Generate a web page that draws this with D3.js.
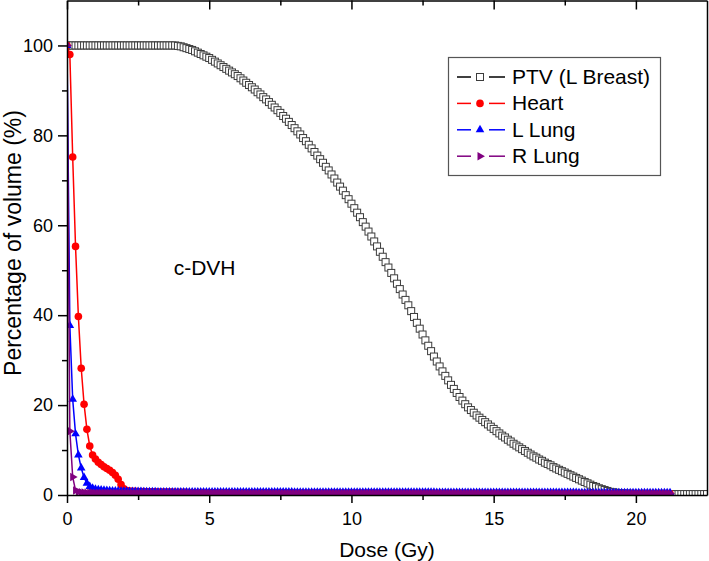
<!DOCTYPE html>
<html><head><meta charset="utf-8">
<script src="https://cdn.jsdelivr.net/npm/d3@7"></script>
<style>body{margin:0;background:#fff}svg{display:block;font-family:Arial,"Liberation Sans",sans-serif}</style>
</head><body><svg id="c" width="709" height="561"></svg>
<script>
const seriesNames = ["PTV (L Breast)", "Heart", "L Lung", "R Lung"];
const seriesColors = ["#000000", "#ff0000", "#0000ff", "#800080"];
const doseStep = 0.1; // Gy per DVH bin
const ptvVolume = [
100,100,100,100,100,100,100,100,100,100,
100,100,100,100,100,100,100,100,100,100,
100,100,100,100,100,100,100,100,100,100,
100,100,100,100,100,100,100,100,100,99.9,
99.8,99.6,99.4,99.2,99.0,98.7,98.4,98.1,97.8,97.5,
97.2,96.8,96.4,96.0,95.6,95.2,94.8,94.4,94.0,93.6,
93.2,92.7,92.2,91.7,91.2,90.7,90.2,89.6,89.1,88.5,
88.0,87.4,86.8,86.2,85.6,85.0,84.3,83.7,83.0,82.3,
81.6,80.9,80.2,79.4,78.7,77.9,77.1,76.3,75.5,74.7,
73.9,73.0,72.2,71.3,70.4,69.5,68.6,67.7,66.7,65.8,
64.8,63.8,62.8,61.8,60.7,59.7,58.6,57.5,56.4,55.3,
54.1,53.0,51.8,50.6,49.4,48.2,47.0,45.8,44.6,43.4,
42.2,40.9,39.6,38.3,37.0,35.7,34.4,33.2,32.0,30.8,
29.7,28.6,27.5,26.5,25.5,24.5,23.6,22.7,21.8,21.0,
20.2,19.5,18.9,18.3,17.7,17.2,16.7,16.2,15.7,15.2,
14.7,14.2,13.7,13.2,12.8,12.3,11.9,11.4,11.0,10.6,
10.2,9.8,9.4,9.0,8.6,8.3,7.9,7.6,7.2,6.9,
6.6,6.2,5.9,5.6,5.3,5.0,4.7,4.4,4.1,3.8,
3.5,3.2,2.9,2.6,2.3,2.0,1.8,1.5,1.3,1.1,
0.9,0.7,0.6,0.5,0.4,0.35,0.3,0.3,0.25,0.25,
0.2,0.2,0.2,0.2,0.2,0.2,0.2,0.2,0.2,0.2,
0.2,0.2,0.2,0.2,0.2,0.2,0.2,0.2,0.2,0.2,
0.2,0.2,0.2,0.2,0.2,0.2];
const heartVolume = [
100,98.0,75.2,55.3,39.7,28.2,20.2,14.6,10.9,8.9,
8.0,7.3,6.8,6.3,5.9,5.5,5.0,4.4,3.5,2.3,
1.4,1.0,0.9,0.85,0.8,0.78,0.75,0.74,0.72,0.71,
0.7,0.69,0.68,0.67,0.66,0.65,0.64,0.63,0.62,0.61,
0.6,0.59,0.58,0.57,0.56,0.55,0.54,0.53,0.52,0.51,
0.5,0.5,0.5,0.5,0.5,0.5,0.5,0.5,0.5,0.5,
0.45,0.45,0.45,0.45,0.45,0.45,0.45,0.45,0.45,0.45,
0.45,0.45,0.45,0.45,0.45,0.45,0.45,0.45,0.45,0.45,
0.4,0.4,0.4,0.4,0.4,0.4,0.4,0.4,0.4,0.4,
0.4,0.4,0.4,0.4,0.4,0.4,0.4,0.4,0.4,0.4,
0.4,0.4,0.4,0.4,0.4,0.4,0.4,0.4,0.4,0.4,
0.4,0.4,0.4,0.4,0.4,0.4,0.4,0.4,0.4,0.4,
0.35,0.35,0.35,0.35,0.35,0.35,0.35,0.35,0.35,0.35,
0.35,0.35,0.35,0.35,0.35,0.35,0.35,0.35,0.35,0.35,
0.35,0.35,0.35,0.35,0.35,0.35,0.35,0.35,0.35,0.35,
0.35,0.35,0.35,0.35,0.35,0.35,0.35,0.35,0.35,0.35,
0.3,0.3,0.3,0.3,0.3,0.3,0.3,0.3,0.3,0.3,
0.3,0.3,0.3,0.3,0.3,0.3,0.3,0.3,0.3,0.3,
0.3,0.3,0.3,0.3,0.3,0.3,0.3,0.3,0.3,0.3,
0.3,0.3,0.3,0.3,0.3,0.3,0.3,0.3,0.3,0.3,
0.3,0.3,0.3,0.3,0.3,0.3,0.3,0.3,0.3,0.3,
0.3,0.3,0.3];
const lLungVolume = [
100,37.7,21.3,13.6,8.9,6.0,3.9,2.6,1.9,1.5,
1.3,1.2,1.1,1.05,1.0,0.95,0.92,0.9,0.88,0.86,
0.84,0.82,0.8,0.79,0.78,0.77,0.76,0.75,0.74,0.73,
0.72,0.71,0.7,0.7,0.69,0.69,0.68,0.68,0.67,0.67,
0.65,0.65,0.65,0.65,0.65,0.65,0.65,0.65,0.65,0.65,
0.65,0.65,0.65,0.65,0.65,0.65,0.65,0.65,0.65,0.65,
0.65,0.65,0.65,0.65,0.65,0.65,0.65,0.65,0.65,0.65,
0.65,0.65,0.65,0.65,0.65,0.65,0.65,0.65,0.65,0.65,
0.6,0.6,0.6,0.6,0.6,0.6,0.6,0.6,0.6,0.6,
0.6,0.6,0.6,0.6,0.6,0.6,0.6,0.6,0.6,0.6,
0.6,0.6,0.6,0.6,0.6,0.6,0.6,0.6,0.6,0.6,
0.6,0.6,0.6,0.6,0.6,0.6,0.6,0.6,0.6,0.6,
0.6,0.6,0.6,0.6,0.6,0.6,0.6,0.6,0.6,0.6,
0.55,0.55,0.55,0.55,0.55,0.55,0.55,0.55,0.55,0.55,
0.55,0.55,0.55,0.55,0.55,0.55,0.55,0.55,0.55,0.55,
0.55,0.55,0.55,0.55,0.55,0.55,0.55,0.55,0.55,0.55,
0.55,0.55,0.55,0.55,0.55,0.55,0.55,0.55,0.55,0.55,
0.55,0.55,0.55,0.55,0.55,0.55,0.55,0.55,0.55,0.55,
0.5,0.5,0.5,0.5,0.5,0.5,0.5,0.5,0.5,0.5,
0.5,0.5,0.5,0.5,0.5,0.5,0.5,0.5,0.5,0.5,
0.5,0.5,0.5,0.5,0.5,0.5,0.5,0.5,0.5,0.5,
0.5,0.5,0.5];
const rLungVolume = [
100,14.2,4.0,1.0,0.7,0.6,0.55,0.5,0.5,0.5,
0.45,0.45,0.45,0.45,0.45,0.45,0.45,0.45,0.45,0.45,
0.45,0.45,0.45,0.45,0.45,0.45,0.45,0.45,0.45,0.45,
0.45,0.45,0.45,0.45,0.45,0.45,0.45,0.45,0.45,0.45,
0.45,0.45,0.45,0.45,0.45,0.45,0.45,0.45,0.45,0.45,
0.45,0.45,0.45,0.45,0.45,0.45,0.45,0.45,0.45,0.45,
0.4,0.4,0.4,0.4,0.4,0.4,0.4,0.4,0.4,0.4,
0.4,0.4,0.4,0.4,0.4,0.4,0.4,0.4,0.4,0.4,
0.4,0.4,0.4,0.4,0.4,0.4,0.4,0.4,0.4,0.4,
0.4,0.4,0.4,0.4,0.4,0.4,0.4,0.4,0.4,0.4,
0.4,0.4,0.4,0.4,0.4,0.4,0.4,0.4,0.4,0.4,
0.4,0.4,0.4,0.4,0.4,0.4,0.4,0.4,0.4,0.4,
0.38,0.38,0.38,0.38,0.38,0.38,0.38,0.38,0.38,0.38,
0.38,0.38,0.38,0.38,0.38,0.38,0.38,0.38,0.38,0.38,
0.38,0.38,0.38,0.38,0.38,0.38,0.38,0.38,0.38,0.38,
0.38,0.38,0.38,0.38,0.38,0.38,0.38,0.38,0.38,0.38,
0.38,0.38,0.38,0.38,0.38,0.38,0.38,0.38,0.38,0.38,
0.35,0.35,0.35,0.35,0.35,0.35,0.35,0.35,0.35,0.35,
0.35,0.35,0.35,0.35,0.35,0.35,0.35,0.35,0.35,0.35,
0.35,0.35,0.35,0.35,0.35,0.35,0.35,0.35,0.35,0.35,
0.35,0.35,0.35,0.35,0.35,0.35,0.35,0.35,0.35,0.35,
0.35,0.35,0.35];
const xTickValues = [0, 5, 10, 15, 20];
const xMinorTickValues = [2.5, 7.5, 12.5, 17.5];
const yTickValues = [0, 20, 40, 60, 80, 100];
const yMinorTickValues = [10, 30, 50, 70, 90];
const xTitle = "Dose (Gy)";
const yTitle = "Percentage of volume (%)";
const annotation = "c-DVH";

const svg = d3.select("#c");
const L = 67, R = 707, T = 0.5, B = 495;
const x = d3.scaleLinear().domain([0, 22.5]).range([L, R]);
const y = d3.scaleLinear().domain([0, 110]).range([B, T]);

svg.append("defs").append("clipPath").attr("id", "clip")
  .append("rect").attr("x", L).attr("y", T).attr("width", R - L).attr("height", B - T);

const toPts = arr => arr.map((v, i) => ({d: i * doseStep, v}));
const series = [
  {name: seriesNames[0], color: seriesColors[0], pts: toPts(ptvVolume), lw: 1},
  {name: seriesNames[1], color: seriesColors[1], pts: toPts(heartVolume), lw: 1.5},
  {name: seriesNames[2], color: seriesColors[2], pts: toPts(lLungVolume), lw: 1.5},
  {name: seriesNames[3], color: seriesColors[3], pts: toPts(rLungVolume), lw: 1.5}
];

const line = d3.line().x(p => x(p.d)).y(p => y(p.v));
const plot = svg.append("g").attr("clip-path", "url(#clip)");

function drawMarker(g, idx, color) {
  if (idx === 0) {
    g.append("rect").attr("x", -3.5).attr("y", -3.5).attr("width", 7).attr("height", 7)
      .attr("fill", "#fff").attr("stroke", "#3c3c3c").attr("stroke-width", 1);
  } else if (idx === 1) {
    g.append("circle").attr("r", 3.8).attr("fill", color);
  } else if (idx === 2) {
    g.append("path").attr("d", d3.symbol(d3.symbolTriangle, 32)()).attr("fill", color);
  } else {
    g.append("path").attr("d", d3.symbol(d3.symbolTriangle, 32)()).attr("transform", "rotate(90)").attr("fill", color);
  }
}

series.forEach((s, i) => {
  const g = plot.append("g");
  g.append("path").datum(s.pts).attr("d", line).attr("fill", "none")
    .attr("stroke", s.color).attr("stroke-width", s.lw);
  g.selectAll("g.m").data(s.pts).join("g").attr("class", "m")
    .attr("transform", p => `translate(${x(p.d)},${y(p.v)})`)
    .each(function() { drawMarker(d3.select(this), i, s.color); });
});

// axes
const fmt = d3.format("d");
svg.append("g").attr("transform", `translate(0,${B})`)
  .call(d3.axisBottom(x).tickValues(xTickValues).tickFormat(fmt).tickSize(8).tickSizeOuter(0).tickPadding(9));
svg.append("g").attr("transform", `translate(0,${B})`)
  .call(d3.axisBottom(x).tickValues(xMinorTickValues).tickFormat("").tickSize(5).tickSizeOuter(0))
  .select(".domain").remove();
svg.append("g").attr("transform", `translate(${L},0)`)
  .call(d3.axisLeft(y).tickValues(yTickValues).tickFormat(fmt).tickSize(9).tickSizeOuter(0).tickPadding(5));
svg.append("g").attr("transform", `translate(${L},0)`)
  .call(d3.axisLeft(y).tickValues(yMinorTickValues).tickFormat("").tickSize(5).tickSizeOuter(0))
  .select(".domain").remove();
svg.append("g").attr("transform", `translate(0,${T})`)
  .call(d3.axisTop(x).tickValues(xTickValues).tickFormat("").tickSize(-9).tickSizeOuter(0));
svg.append("g").attr("transform", `translate(0,${T})`)
  .call(d3.axisTop(x).tickValues(xMinorTickValues).tickFormat("").tickSize(-5).tickSizeOuter(0))
  .select(".domain").remove();
svg.append("g").attr("transform", `translate(${R},0)`)
  .call(d3.axisRight(y).tickValues([]).tickSizeOuter(0));

svg.selectAll(".domain, .tick line").attr("stroke", "#000").attr("stroke-width", 1.5);
svg.selectAll(".tick text").attr("font-size", 18).attr("font-family", "Arial, 'Liberation Sans', sans-serif").attr("fill", "#000");

// titles
svg.append("text").attr("x", (L + R) / 2).attr("y", 557).attr("text-anchor", "middle")
  .attr("font-size", 21).text(xTitle);
svg.append("text").attr("transform", `translate(21,243) rotate(-90)`).attr("text-anchor", "middle")
  .attr("font-size", 23).text(yTitle);
svg.append("text").attr("x", x(3.75)).attr("y", 275).attr("font-size", 21).text(annotation);

// legend
const lg = svg.append("g");
lg.append("rect").attr("x", 448.5).attr("y", 57.5).attr("width", 212).attr("height", 118)
  .attr("fill", "#fff").attr("stroke", "#555").attr("stroke-width", 1.2);
series.forEach((s, i) => {
  const by = 84 + i * 26.4;
  const cy = by - 7;
  const row = lg.append("g");
  row.append("line").attr("x1", 457).attr("x2", 471).attr("y1", cy).attr("y2", cy).attr("stroke", s.color).attr("stroke-width", 1.5);
  row.append("line").attr("x1", 489).attr("x2", 505).attr("y1", cy).attr("y2", cy).attr("stroke", s.color).attr("stroke-width", 1.5);
  const m = row.append("g").attr("transform", `translate(480,${cy})`);
  drawMarker(m, i, s.color);
  row.append("text").attr("x", 512).attr("y", by).attr("font-size", 21).text(s.name);
});
</script></body></html>
